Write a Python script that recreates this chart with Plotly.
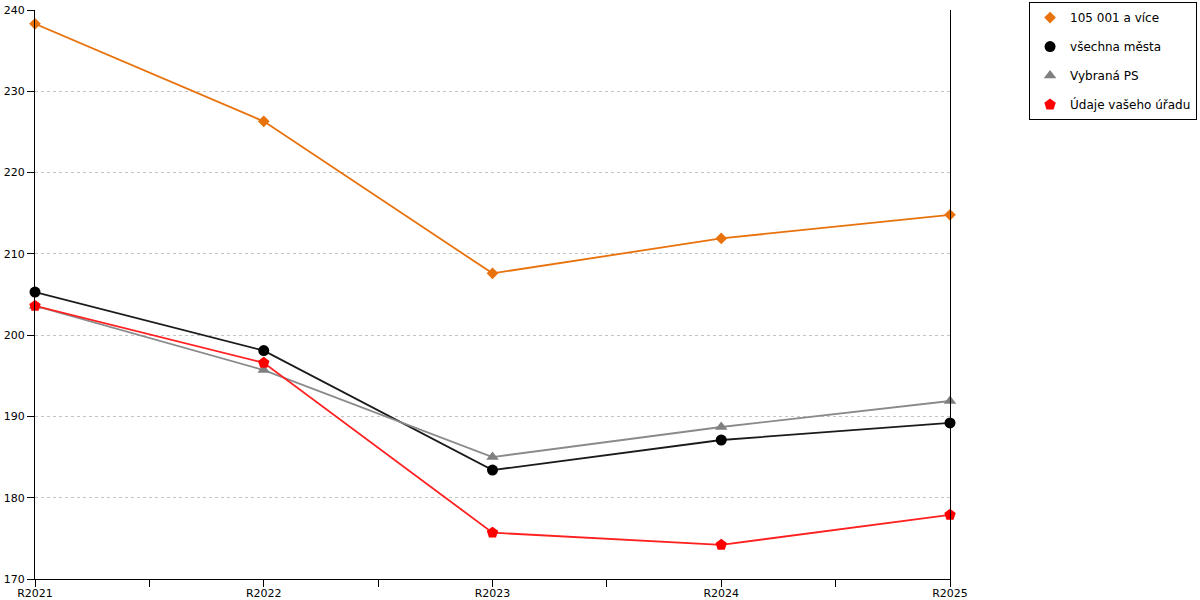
import plotly.graph_objects as go

categories = ["R2021", "R2022", "R2023", "R2024", "R2025"]
series_names = ["105 001 a více", "všechna města", "Vybraná PS", "Údaje vašeho úřadu"]
orange_vals = [238.3, 226.3, 207.6, 211.9, 214.8]
black_vals = [205.3, 198.1, 183.4, 187.1, 189.2]
gray_vals = [203.6, 195.7, 185.0, 188.7, 191.9]
red_vals = [203.6, 196.6, 175.7, 174.2, 177.9]
y_ticks = [170, 180, 190, 200, 210, 220, 230, 240]

colors = ["#E8720C", "#000000", "#808080", "#FF0000"]
line_colors = ["#E8720C", "#1a1a1a", "#8a8a8a", "#FF2020"]
symbols = ["diamond", "circle", "triangle-up", "pentagon"]
sizes = [9, 11, 11, 12]
values = [orange_vals, black_vals, gray_vals, red_vals]

x_idx = list(range(len(categories)))
fig = go.Figure()
for name, vals, c, lc in zip(series_names, values, colors, line_colors):
    fig.add_trace(go.Scatter(x=x_idx, y=vals, mode="lines", line=dict(color=lc, width=1.8),
                             showlegend=False, hoverinfo="skip", cliponaxis=False))
for i, (name, vals, c, s, sz) in enumerate(zip(series_names, values, colors, symbols, sizes)):
    fig.add_trace(go.Scatter(x=x_idx, y=vals, mode="markers", name=name,
                             marker=dict(color=c, symbol=s, size=sz, line=dict(width=0)),
                             legendgroup=f"g{i}", cliponaxis=False))

tickvals = [i * 0.5 for i in range(2 * len(categories) - 1)]
ticktext = [categories[int(v)] if v == int(v) else "" for v in tickvals]

fig.update_layout(
    width=1200, height=600,
    margin=dict(l=35, r=250, t=10, b=21, autoexpand=False),
    plot_bgcolor="white", paper_bgcolor="white",
    font=dict(family="DejaVu Sans", size=11, color="#000"),
    legend=dict(x=1.27, xanchor="right", y=1.014, yanchor="top",
                bordercolor="#000", borderwidth=1, font=dict(size=12),
                tracegroupgap=10, itemclick=False),
    xaxis=dict(range=[0, 4], tickvals=tickvals, ticktext=ticktext, automargin=False,
               showgrid=False, zeroline=False, showline=True, linecolor="#000", linewidth=1,
               ticks="outside", ticklen=7, tickcolor="#000", tickfont=dict(size=11),
               ticklabelstandoff=-3),
    yaxis=dict(range=[170, 240], tickvals=y_ticks, showgrid=True, gridcolor="#c4c4c4",
               griddash="dot", gridwidth=1, zeroline=False, showline=True, linecolor="#000",
               linewidth=1, mirror=True, ticks="outside", ticklen=7, tickcolor="#000",
               tickfont=dict(size=11), automargin=False),
)
fig.write_html("out.html", config={"displayModeBar": False},
               post_script="document.body.style.margin='0';")
